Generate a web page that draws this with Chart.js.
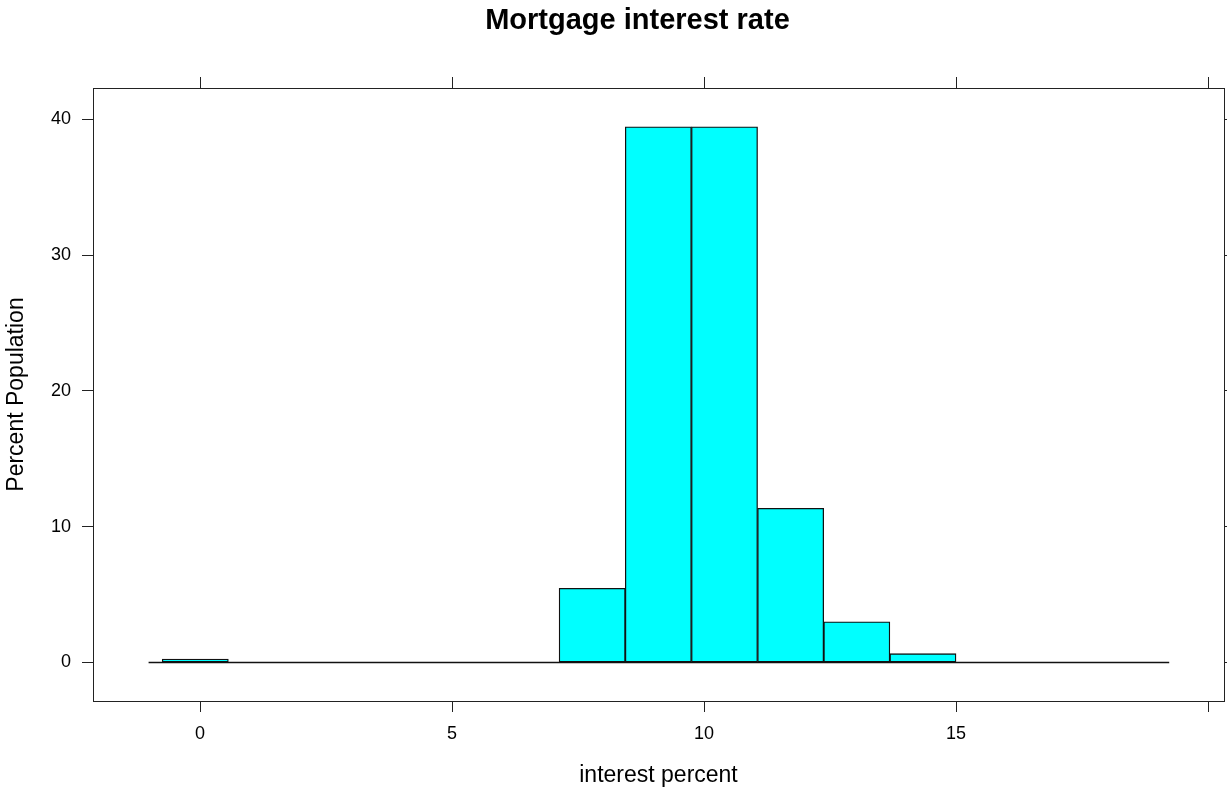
<!DOCTYPE html>
<html>
<head>
<meta charset="utf-8">
<title>Mortgage interest rate</title>
<script src="https://cdn.jsdelivr.net/npm/chart.js@4.4.1/dist/chart.umd.min.js"></script>
<style>
  html, body { margin: 0; padding: 0; background: #ffffff; }
  #wrap { width: 1227px; height: 790px; position: relative; }
</style>
</head>
<body>
<div id="wrap"><canvas id="chart"></canvas></div>
<script>
// Histogram breaks (interest percent) and the share of the population in each bin
const binEdges = [-0.75, 0.5625, 1.875, 3.1875, 4.5, 5.8125, 7.125, 8.4375, 9.75, 11.0625, 12.375, 13.6875, 15.0];
const percentPopulation = [0.26, 0, 0, 0, 0, 0, 5.46, 39.45, 39.45, 11.35, 3.0, 0.65];

// Horizontal zero line under the histogram
const baselineSpan = [-1.02, 19.23];

// Axis ticks and labels
const xTicks = [0, 5, 10, 15, 20];
const xTickLabels = ['0', '5', '10', '15', ''];
const yTicks = [0, 10, 20, 30, 40];
const yTickLabels = ['0', '10', '20', '30', '40'];

// Panel limits
const xRange = [-2.123, 20.317];
const yRange = [-2.835, 42.30];

const FONT = "'Liberation Sans', Arial, Helvetica, sans-serif";
const INK = '#000000';
const FRAME = '#222222';

const binCentres = percentPopulation.map((_, i) => (binEdges[i] + binEdges[i + 1]) / 2);
const histogramPoints = percentPopulation.map((v, i) => ({ x: binCentres[i], y: v }));
const baselinePoints = baselineSpan.map(x => ({ x: x, y: 0 }));

const setTicks = values => axis => { axis.ticks = values.map(v => ({ value: v })); };

const frameAxis = (extra) => Object.assign({
  type: 'linear',
  offset: false,
  grid: { offset: false, drawOnChartArea: false, drawTicks: true, tickLength: 11, tickWidth: 1, tickColor: FRAME },
  border: { display: true, color: FRAME, width: 1 }
}, extra);

// Centre the main title a little right of the canvas middle
const titleShift = {
  id: 'titleShift',
  afterLayout(chart) {
    if (chart.titleBlock) { chart.titleBlock.left = 48; }
  }
};

new Chart(document.getElementById('chart'), {
  data: {
    datasets: [
      {
        type: 'bar',
        label: 'Percent Population',
        data: histogramPoints,
        xAxisID: 'x',
        yAxisID: 'y',
        backgroundColor: '#00FFFF',
        borderColor: '#111111',
        borderWidth: 1.3,
        borderSkipped: false,
        barPercentage: 1,
        categoryPercentage: 1,
        order: 2
      },
      {
        type: 'line',
        label: 'baseline',
        data: baselinePoints,
        xAxisID: 'x',
        yAxisID: 'y',
        borderColor: '#111111',
        borderWidth: 1.3,
        pointRadius: 0,
        fill: false,
        order: 1
      }
    ]
  },
  plugins: [titleShift],
  options: {
    responsive: true,
    maintainAspectRatio: false,
    animation: false,
    layout: { padding: 0 },
    plugins: {
      legend: { display: false },
      tooltip: { enabled: false },
      title: {
        display: true,
        text: 'Mortgage interest rate',
        color: INK,
        font: { family: FONT, size: 29, weight: 'bold' },
        padding: { top: 4, bottom: 38.2 }
      }
    },
    scales: {
      x: frameAxis({
        position: 'bottom',
        min: xRange[0], max: xRange[1],
        afterBuildTicks: setTicks(xTicks),
        afterFit: axis => { axis.height = 89; },
        ticks: {
          color: INK, padding: 11, maxRotation: 0, autoSkip: false,
          font: { family: FONT, size: 18 },
          callback: (v, i) => xTickLabels[i]
        },
        title: {
          display: true, text: 'interest percent', color: INK,
          font: { family: FONT, size: 23 },
          padding: { top: 0, bottom: 1 }
        }
      }),
      x2: frameAxis({
        position: 'top',
        min: xRange[0], max: xRange[1],
        afterBuildTicks: setTicks(xTicks),
        afterFit: axis => { axis.height = 11; },
        ticks: { display: false }
      }),
      y: frameAxis({
        position: 'left',
        min: yRange[0], max: yRange[1],
        afterBuildTicks: setTicks(yTicks),
        afterFit: axis => { axis.width = 93; },
        ticks: {
          color: INK, padding: 11, autoSkip: false,
          font: { family: FONT, size: 18 },
          callback: (v, i) => yTickLabels[i]
        },
        title: {
          display: true, text: 'Percent Population', color: INK,
          font: { family: FONT, size: 23 },
          padding: { top: 3, bottom: 0 }
        }
      }),
      y2: frameAxis({
        position: 'right',
        min: yRange[0], max: yRange[1],
        afterBuildTicks: setTicks(yTicks),
        afterFit: axis => { axis.width = 3; },
        ticks: { display: false }
      })
    }
  }
});
</script>
</body>
</html>
